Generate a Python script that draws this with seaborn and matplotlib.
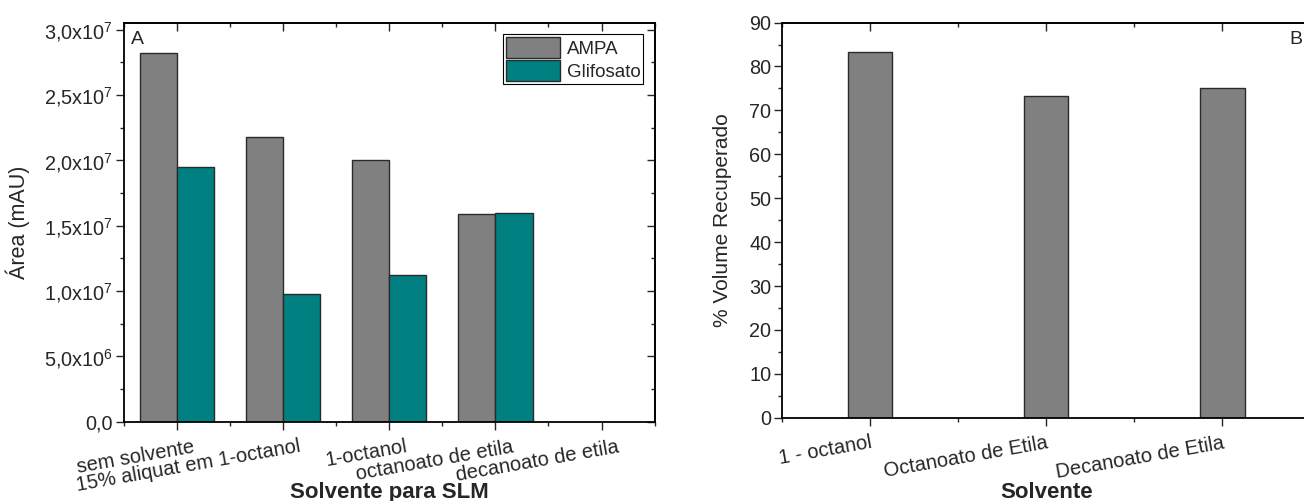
import matplotlib
matplotlib.use("Agg")
import numpy as np
import pandas as pd
import matplotlib.pyplot as plt
import matplotlib.transforms as mtransforms
from matplotlib.ticker import MultipleLocator, FixedLocator, FuncFormatter
import seaborn as sns

# panel A data (area in mAU)
solventes_a = ["sem solvente", "15% aliquat em 1-octanol", "1-octanol",
               "octanoato de etila", "decanoato de etila"]
ampa = [2.82e7, 2.18e7, 2.00e7, 1.59e7, np.nan]
glifosato = [1.95e7, 0.975e7, 1.12e7, 1.60e7, np.nan]
series = ["AMPA", "Glifosato"]

# panel B data (% volume recuperado)
solventes_b = ["1 - octanol", "Octanoato de Etila", "Decanoato de Etila"]
volume_recuperado = [83.3, 73.3, 75.0]

sns.set_style("ticks")
plt.rcParams["font.family"] = ["Liberation Sans", "DejaVu Sans"]
plt.rcParams["mathtext.fontset"] = "custom"
plt.rcParams["mathtext.rm"] = "Liberation Sans"
plt.rcParams["mathtext.it"] = "Liberation Sans"

gray = "#808080"
teal = "#008080"
edge = "#2a2a2a"

df_a = pd.DataFrame({
    "solvente": solventes_a * 2,
    "serie": [series[0]] * len(ampa) + [series[1]] * len(glifosato),
    "area": ampa + glifosato,
})
df_b = pd.DataFrame({"solvente": solventes_b, "volume": volume_recuperado})

fig = plt.figure(figsize=(13.04, 5.01), dpi=100)
ax1 = fig.add_axes([0.095, 0.158, 0.407, 0.796])
ax2 = fig.add_axes([0.600, 0.166, 0.405, 0.789])

# ---- panel A
sns.barplot(data=df_a, x="solvente", y="area", hue="serie", order=solventes_a,
            hue_order=series, palette=[gray, teal], saturation=1, width=0.7,
            errorbar=None, edgecolor=edge, linewidth=1.0, ax=ax1)
ax1.set_xlim(-0.5, 4.5)
ax1.set_ylim(0, 3.05e7)
ax1.yaxis.set_major_locator(MultipleLocator(0.5e7))
ax1.yaxis.set_minor_locator(MultipleLocator(0.25e7))


def sci_fmt(v, pos):
    if not np.isfinite(v) or v <= 0:
        return "0,0"
    e = int(np.floor(np.log10(v) + 1e-9))
    m = v / 10 ** e
    return (f"{m:.1f}".replace(".", ",")) + r"x10$^{" + str(e) + "}$"


ax1.yaxis.set_major_formatter(FuncFormatter(sci_fmt))
ax1.xaxis.set_minor_locator(MultipleLocator(0.5))
ax1.set_ylabel("Área (mAU)", fontsize=15.5, labelpad=10)
ax1.set_xlabel("Solvente para SLM", fontsize=16, fontweight="bold")
ax1.xaxis.set_label_coords(0.5, -0.152)
fig.text(131 / 1304, 1 - 39 / 501, "A", fontsize=14, va="center", ha="left")

handles, labels = ax1.get_legend_handles_labels()
ax1.legend(handles, labels, loc="upper right", frameon=True, fancybox=False,
           edgecolor="black", framealpha=1, fontsize=13.5, handlelength=2.9,
           handleheight=1.3, borderpad=0.15, labelspacing=0.15,
           handletextpad=0.35, borderaxespad=0.6)
ax1.get_legend().get_frame().set_linewidth(0.8)

# ---- panel B
sns.barplot(data=df_b, x="solvente", y="volume", order=solventes_b, color=gray,
            saturation=1, width=0.25, errorbar=None, edgecolor=edge,
            linewidth=1.0, ax=ax2)
ax2.set_xlim(-0.5, 2.5)
ax2.set_ylim(0, 90)
ax2.yaxis.set_major_locator(MultipleLocator(10))
ax2.yaxis.set_minor_locator(MultipleLocator(5))
ax2.xaxis.set_minor_locator(MultipleLocator(0.5))
ax2.set_ylabel("% Volume Recuperado", fontsize=15, labelpad=12)
ax2.set_xlabel("Solvente", fontsize=16, fontweight="bold")
ax2.xaxis.set_label_coords(0.5, -0.163)
fig.text(1289 / 1304, 1 - 40 / 501, "B", fontsize=14, va="center", ha="left")

for ax, shift, mirror_right in [(ax1, 16, True), (ax2, 0, False)]:
    for sp in ax.spines.values():
        sp.set_visible(True)
        sp.set_linewidth(1.3)
        sp.set_color("black")
    ax.spines["right"].set_visible(mirror_right)
    ax.tick_params(axis="both", which="major", direction="out", length=6,
                   width=1.0, labelsize=14.3, pad=2)
    ax.tick_params(axis="both", which="minor", direction="out", length=3, width=1.0)
    ax.tick_params(axis="x", which="major", pad=5, labelsize=14.5)
    off = mtransforms.ScaledTranslation(shift / 100, 0, fig.dpi_scale_trans)
    for lab in ax.get_xticklabels():
        lab.set_rotation(10)
        lab.set_ha("right")
        lab.set_va("top")
        lab.set_rotation_mode("anchor")
        lab.set_transform(lab.get_transform() + off)
    # mirrored ticks on top/right, pointing in
    top = ax.secondary_xaxis("top")
    top.xaxis.set_major_locator(FixedLocator(ax.get_xticks()))
    top.xaxis.set_minor_locator(MultipleLocator(0.5))
    top.tick_params(which="major", direction="in", length=6, width=1.0, labeltop=False)
    top.tick_params(which="minor", direction="in", length=3, width=1.0)
    top.spines["top"].set_linewidth(1.3)
    if mirror_right:
        right = ax.secondary_yaxis("right")
        right.yaxis.set_major_locator(ax.yaxis.get_major_locator())
        right.yaxis.set_minor_locator(ax.yaxis.get_minor_locator())
        right.tick_params(which="major", direction="in", length=6, width=1.0, labelright=False)
        right.tick_params(which="minor", direction="in", length=3, width=1.0)
        right.spines["right"].set_linewidth(1.3)

fig.savefig("out.png", dpi=100)
